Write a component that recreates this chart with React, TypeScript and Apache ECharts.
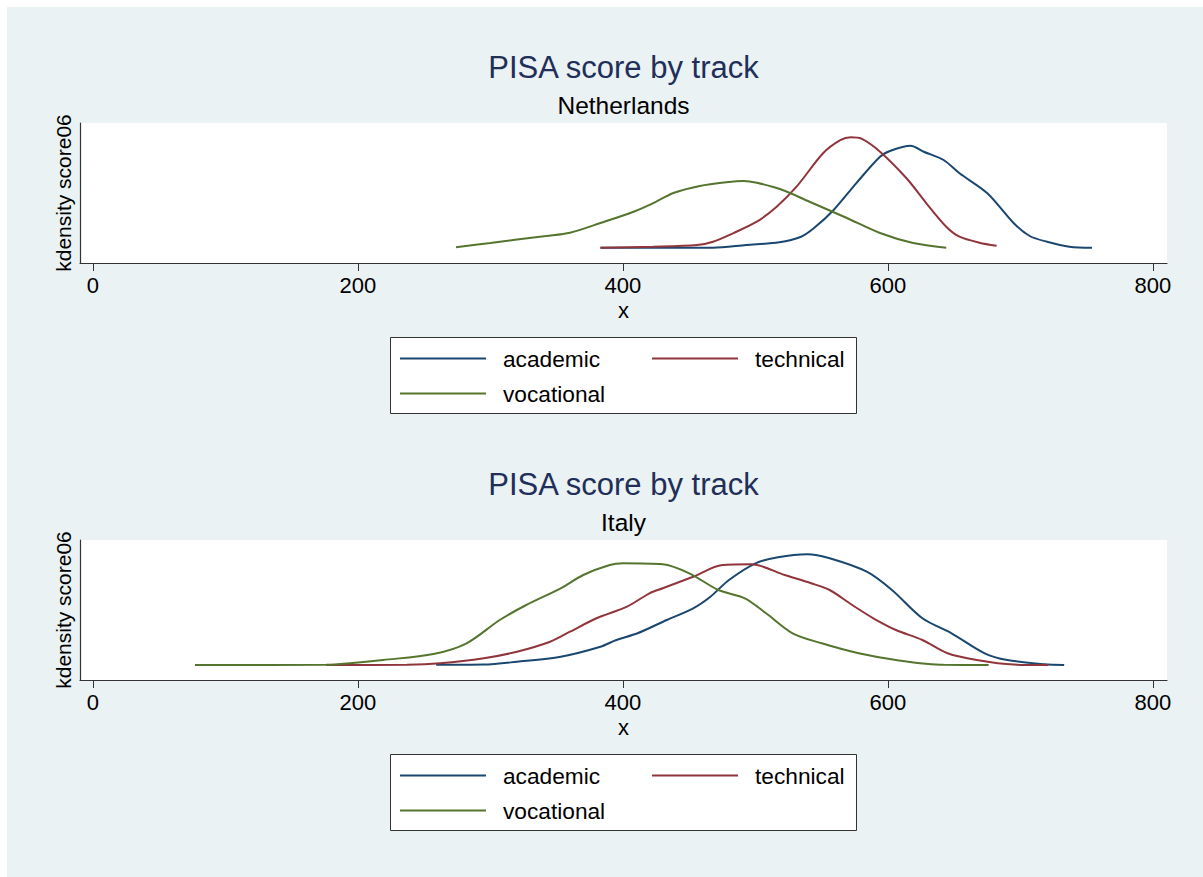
import React, { useEffect, useRef } from "react";
import * as echarts from "echarts";

const xTicks = [0, 200, 400, 600, 800];
const trackNames = ["academic", "technical", "vocational"];
const trackColors = ["#1A476F", "#90353B", "#55752F"];
const panelTitles = ["PISA score by track", "PISA score by track"];
const panelSubtitles = ["Netherlands", "Italy"];
const xAxisTitle = "x";
const yAxisTitle = "kdensity score06";

// Netherlands
const nlAcademic = [
  [383, 0.00001], [468, 0.00002], [493, 0.00021], [518, 0.0004], [534, 0.00077],
  [544, 0.00138], [559, 0.00266], [576, 0.00453], [594, 0.00639], [602, 0.00681],
  [617, 0.00716], [627, 0.00674], [642, 0.00616], [654, 0.00523], [675, 0.00383],
  [695, 0.00173], [707, 0.00084], [720, 0.00044], [737, 0.00009], [754, 0.00002],
];
const nlTechnical = [
  [383, 0.00002], [423, 0.00009], [456, 0.00021], [468, 0.00044], [483, 0.00103],
  [501, 0.00184], [516, 0.00289], [531, 0.00429], [551, 0.00663], [564, 0.00755],
  [572, 0.00775], [580, 0.00765], [594, 0.00674], [614, 0.00488], [629, 0.00313],
  [644, 0.00149], [654, 0.00079], [669, 0.00037], [682, 0.00016],
];
const nlVocational = [
  [274, 0.00005], [300, 0.00035], [320, 0.00059], [342, 0.00084], [360, 0.00107],
  [383, 0.00175], [408, 0.00254], [425, 0.00324], [438, 0.00385], [458, 0.00434],
  [478, 0.0046], [491, 0.00469], [501, 0.00457], [519, 0.00411], [543, 0.00315],
  [569, 0.0021], [594, 0.00105], [619, 0.00035], [644, 0.00002],
];

// Italy
const itAcademic = [
  [259, 0.00001], [295, 0.00003], [320, 0.00023], [353, 0.00058], [383, 0.00128],
  [395, 0.00175], [411, 0.00222], [433, 0.00315], [453, 0.00397], [466, 0.00478],
  [480, 0.00595], [500, 0.00712], [517, 0.00754], [539, 0.00775], [556, 0.00747],
  [584, 0.00653], [603, 0.00525], [626, 0.00327], [648, 0.00222], [673, 0.00082],
  [690, 0.00035], [718, 0.00005], [733, 0],
];
const itTechnical = [
  [176, 0], [237, 0.00002], [262, 0.00012], [295, 0.00047], [320, 0.00093],
  [345, 0.00163], [360, 0.00233], [380, 0.00327], [403, 0.00408], [420, 0.00502],
  [430, 0.00537], [453, 0.00618], [475, 0.007], [497, 0.00705], [522, 0.0063],
  [542, 0.00572], [556, 0.00525], [573, 0.0042], [589, 0.00327], [606, 0.00245],
  [626, 0.00175], [645, 0.00082], [667, 0.00035], [695, 0.00003], [721, 0],
];
const itVocational = [
  [77, 0], [176, 0.00001], [194, 0.00012], [219, 0.00035], [257, 0.00077],
  [282, 0.00152], [307, 0.00315], [327, 0.0042], [353, 0.00537], [370, 0.0063],
  [390, 0.007], [400, 0.00712], [430, 0.00705], [450, 0.00642], [472, 0.00525],
  [492, 0.00467], [508, 0.00362], [528, 0.00222], [550, 0.00152], [578, 0.00082],
  [606, 0.00035], [642, 0.00001], [676, 0],
];

const panelData = [
  [nlAcademic, nlTechnical, nlVocational],
  [itAcademic, itTechnical, itVocational],
];

const FONT = "'Liberation Sans', Arial, Helvetica, sans-serif";
const PANEL_STEP = 417;

export default function App() {
  const ref = useRef<HTMLDivElement>(null);

  useEffect(() => {
    if (!ref.current) return;
    const chart = echarts.init(ref.current, undefined, { renderer: "svg" });

    const grids: any[] = [];
    const xAxes: any[] = [];
    const yAxes: any[] = [];
    const titles: any[] = [];
    const legends: any[] = [];
    const series: any[] = [];
    const graphics: any[] = [];

    panelData.forEach((tracks, p) => {
      const o = p * PANEL_STEP;
      grids.push({
        left: 73,
        top: 116 + o,
        width: 1087,
        height: 140,
        show: true,
        backgroundColor: "#ffffff",
        borderWidth: 0,
      });
      xAxes.push({
        type: "value",
        gridIndex: p,
        min: -9.8,
        max: 810.6,
        name: xAxisTitle,
        nameLocation: "middle",
        nameGap: 36,
        nameTextStyle: { fontSize: 22, color: "#000", fontFamily: FONT },
        axisLine: { show: true, onZero: false, lineStyle: { color: "#333", width: 1.2 } },
        axisTick: { show: true, length: 8, customValues: xTicks, lineStyle: { color: "#333", width: 1 } },
        axisLabel: { show: true, customValues: xTicks, margin: 11, fontSize: 22, color: "#000", fontFamily: FONT },
        splitLine: { show: false },
      });
      yAxes.push({
        type: "value",
        gridIndex: p,
        min: -0.00105,
        max: 0.00875,
        name: yAxisTitle,
        nameLocation: "middle",
        nameGap: 6,
        nameTextStyle: { fontSize: 21, color: "#000", fontFamily: FONT },
        axisLine: { show: true, onZero: false, lineStyle: { color: "#333", width: 1.2 } },
        axisTick: { show: false },
        axisLabel: { show: false },
        splitLine: { show: false },
      });
      titles.push({
        text: panelTitles[p],
        left: 616.5,
        top: 45 + o,
        textAlign: "center",
        padding: 0,
        textStyle: { fontSize: 31, fontWeight: "normal", color: "#1F2F5A", fontFamily: FONT },
      });
      titles.push({
        text: panelSubtitles[p],
        left: 616.5,
        top: 86 + o,
        textAlign: "center",
        padding: 0,
        textStyle: { fontSize: 24.5, fontWeight: "normal", color: "#000", fontFamily: FONT },
      });
      const legendPos = [
        [393, 340],
        [645, 340],
        [393, 375],
      ];
      trackNames.forEach((name, i) => {
        legends.push({
          left: legendPos[i][0],
          top: legendPos[i][1] + o,
          data: [name],
          icon: "rect",
          itemWidth: 86,
          itemHeight: 2,
          padding: 0,
          selectedMode: false,
          textStyle: { fontSize: 22.7, color: "#000", fontFamily: FONT, padding: [0, 0, 0, 12] },
        });
        series.push({
          name,
          type: "line",
          xAxisIndex: p,
          yAxisIndex: p,
          data: tracks[i],
          smooth: 0.3,
          showSymbol: false,
          symbol: "none",
          color: trackColors[i],
          lineStyle: { color: trackColors[i], width: 2 },
          itemStyle: { color: trackColors[i] },
        });
      });
      graphics.push({
        type: "rect",
        z: -1,
        shape: { x: 383.5, y: 330.5 + o, width: 466, height: 76 },
        style: { fill: "#ffffff", stroke: "#333", lineWidth: 1 },
      });
    });

    chart.setOption({
      animation: false,
      backgroundColor: "#EAF2F3",
      textStyle: { fontFamily: FONT },
      title: titles,
      grid: grids,
      xAxis: xAxes,
      yAxis: yAxes,
      legend: legends,
      series,
      graphic: { elements: graphics },
    });

    return () => chart.dispose();
  }, []);

  return (
    <div
      ref={ref}
      style={{ position: "absolute", left: 7, top: 7, width: 1196, height: 870, background: "#EAF2F3" }}
    />
  );
}
